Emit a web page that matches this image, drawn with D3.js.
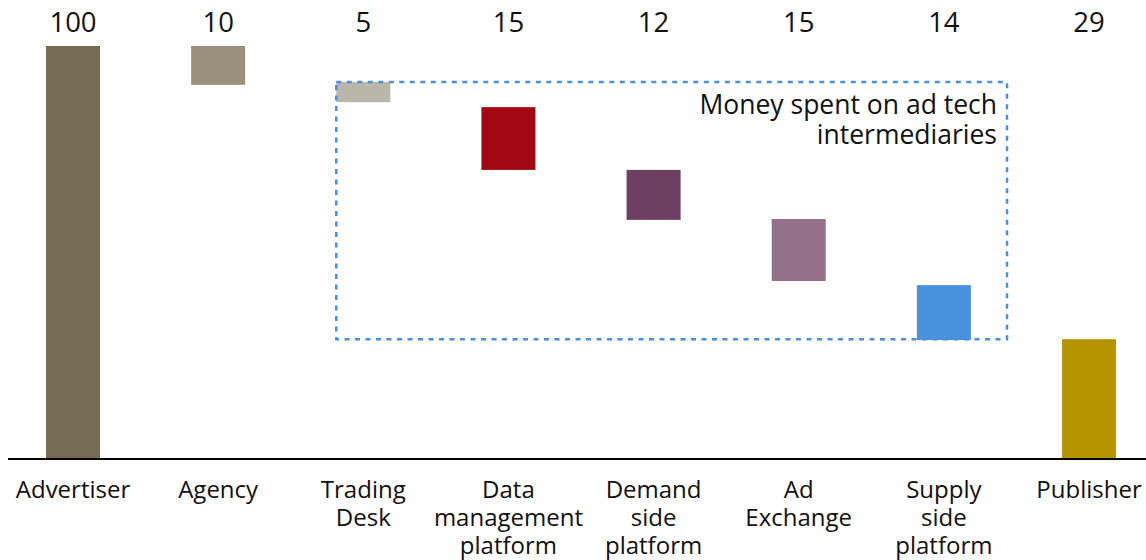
<!DOCTYPE html>
<html><head><meta charset="utf-8">
<script src="https://cdn.jsdelivr.net/npm/d3@7"></script>
<style>body{margin:0;background:#fff}svg{display:block;font-family:"Open Sans",sans-serif}</style>
</head><body><svg id="c" width="1146" height="560"></svg>
<script>
const categories = [["Advertiser"],["Agency"],["Trading","Desk"],["Data","management","platform"],["Demand","side","platform"],["Ad","Exchange"],["Supply","side","platform"],["Publisher"]];
const amounts = [100,10,5,15,12,15,14,29];
const barTop = [100,100,91.3,85.2,70,58.1,42.1,29];
const barBottom = [0,90.6,86.4,70,57.9,43.1,28.8,0];
const colors = ["#756c54","#9a917c","#bab6aa","#a10812","#6e3f62","#947188","#4a92dc","#b59400"];
const boxRange = {fromIndex:2,toIndex:6,top:91.3,bottom:29};
const annotation = ["Money spent on ad tech","intermediaries"];

const svg = d3.select("#c");
const idx = d3.range(categories.length);
const x = d3.scalePoint().domain(idx).range([73,1089]);
const y = d3.scaleLinear().domain([0,100]).range([459,46]);
const bw = 54;

svg.selectAll("rect.bar").data(idx).join("rect").attr("class","bar")
  .attr("x",i=>x(i)-bw/2).attr("width",bw)
  .attr("y",i=>y(barTop[i])).attr("height",i=>y(barBottom[i])-y(barTop[i]))
  .attr("fill",i=>colors[i]);

// baseline
svg.append("line").attr("x1",8).attr("x2",1146).attr("y1",y(0)).attr("y2",y(0))
  .attr("stroke","#000").attr("stroke-width",2);

// value labels
svg.selectAll("text.val").data(idx).join("text").attr("class","val")
  .attr("x",i=>x(i)).attr("y",32).attr("text-anchor","middle")
  .attr("font-size",27.5).attr("fill","#111").text(i=>amounts[i]);

// category labels
const cl = svg.selectAll("text.cat").data(idx).join("text").attr("class","cat")
  .attr("text-anchor","middle").attr("font-size",24).attr("fill","#111");
cl.selectAll("tspan").data(i=>categories[i].map(t=>({t,i}))).join("tspan")
  .attr("x",d=>x(d.i)).attr("y",(d,k)=>498+k*28).text(d=>d.t);

// dashed box
const bx0 = x(boxRange.fromIndex)-bw/2, bx1 = 1007;
svg.append("rect").attr("x",bx0).attr("y",y(boxRange.top))
  .attr("width",bx1-bx0).attr("height",y(boxRange.bottom)-y(boxRange.top))
  .attr("fill","none").attr("stroke","#4a90dc").attr("stroke-width",2.5)
  .attr("stroke-dasharray","5,5.5");

svg.selectAll("text.ann").data(annotation).join("text").attr("class","ann")
  .attr("x",997).attr("y",(d,k)=>114+k*30).attr("text-anchor","end")
  .attr("font-size",26.5).attr("fill","#111").text(d=>d);
</script></body></html>
